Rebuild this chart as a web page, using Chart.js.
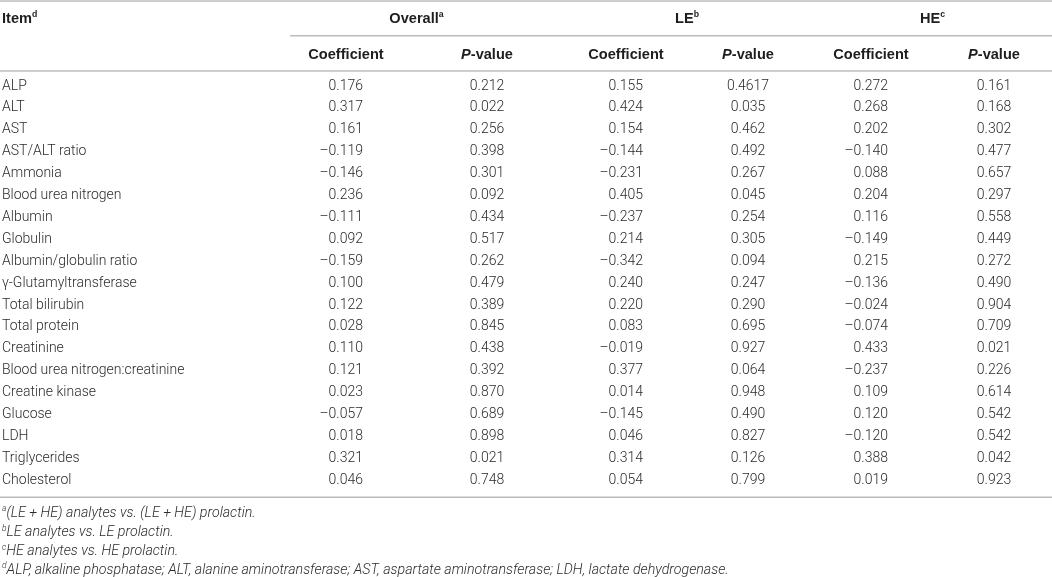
<!DOCTYPE html>
<html>
<head>
<meta charset="utf-8">
<script src="https://cdn.jsdelivr.net/npm/chart.js@4/dist/chart.umd.min.js"></script>
<style>
    html, body { margin: 0; padding: 0; background: #fff; }
    #wrap { width: 1052px; height: 577px; }
</style>
</head>
<body>
<div id="wrap"><canvas id="tableChart" width="1052" height="577"></canvas></div>
<script>
// 表格資料
const items = ['ALP', 'ALT', 'AST', 'AST/ALT ratio', 'Ammonia', 'Blood urea nitrogen', 'Albumin', 'Globulin',
    'Albumin/globulin ratio', 'γ-Glutamyltransferase', 'Total bilirubin', 'Total protein', 'Creatinine',
    'Blood urea nitrogen:creatinine', 'Creatine kinase', 'Glucose', 'LDH', 'Triglycerides', 'Cholesterol'];
const overallCoef = [0.176, 0.317, 0.161, -0.119, -0.146, 0.236, -0.111, 0.092, -0.159, 0.100, 0.122, 0.028, 0.110, 0.121, 0.023, -0.057, 0.018, 0.321, 0.046];
const overallP = [0.212, 0.022, 0.256, 0.398, 0.301, 0.092, 0.434, 0.517, 0.262, 0.479, 0.389, 0.845, 0.438, 0.392, 0.870, 0.689, 0.898, 0.021, 0.748];
const leCoef = [0.155, 0.424, 0.154, -0.144, -0.231, 0.405, -0.237, 0.214, -0.342, 0.240, 0.220, 0.083, -0.019, 0.377, 0.014, -0.145, 0.046, 0.314, 0.054];
const leP = [0.4617, 0.035, 0.462, 0.492, 0.267, 0.045, 0.254, 0.305, 0.094, 0.247, 0.290, 0.695, 0.927, 0.064, 0.948, 0.490, 0.827, 0.126, 0.799];
const heCoef = [0.272, 0.268, 0.202, -0.140, 0.088, 0.204, 0.116, -0.149, 0.215, -0.136, -0.024, -0.074, 0.433, -0.237, 0.109, 0.120, -0.120, 0.388, 0.019];
const heP = [0.161, 0.168, 0.302, 0.477, 0.657, 0.297, 0.558, 0.449, 0.272, 0.490, 0.904, 0.709, 0.021, 0.226, 0.614, 0.542, 0.542, 0.042, 0.923];

const itemHeader = 'Item';
const itemMark = 'd';
const groupTitles = ['Overall', 'LE', 'HE'];
const groupMarks = ['a', 'b', 'c'];
const subHeaders = ['Coefficient', 'P-value'];
const footMarks = ['a', 'b', 'c', 'd'];
const footnotes = [
    '(LE + HE) analytes vs. (LE + HE) prolactin.',
    'LE analytes vs. LE prolactin.',
    'HE analytes vs. HE prolactin.',
    'ALP, alkaline phosphatase; ALT, alanine aminotransferase; AST, aspartate aminotransferase; LDH, lactate dehydrogenase.'
];

// 版面設定 (像素)
const LAYOUT = {
    width: 1052,
    height: 577,
    rowTop: 86,
    rowStep: 21.9,
    itemX: 2,
    colCenters: [346, 487, 626, 748, 871, 994],
    coefShift: 17,
    groupPx: 19,
    subPx: 54.5,
    footPx: [513.3, 532.7, 551.7, 570],
    rules: [
        { px: 1, x0: 0 },
        { px: 35.7, x0: 290 },
        { px: 71, x0: 0 },
        { px: 497.3, x0: 0 }
    ]
};

// 像素位置換算成列單位
const toRow = px => (px - LAYOUT.rowTop) / LAYOUT.rowStep;

const BODY_FONT = 'Roboto, "Liberation Sans", sans-serif';
const HEAD_FONT = '"Liberation Sans", Arial, sans-serif';
const bodyCell = { size: 14, weight: 300, color: '#2b2b2b', family: BODY_FONT };
const headCell = { size: 14.6, weight: 700, color: '#1e1e1e', family: HEAD_FONT };
const footCell = { size: 14.2, weight: 300, color: '#2b2b2b', family: BODY_FONT, italic: true };

function fmt(v) {
    const parts = Math.abs(v).toString().split('.');
    const dec = (parts[1] || '').padEnd(3, '0');
    return (v < 0 ? '\u2013' : '') + parts[0] + '.' + dec;
}

function fontFor(cell, run) {
    const size = run.sup ? cell.size * 0.6 : cell.size;
    const style = (run.italic || cell.italic) ? 'italic ' : '';
    return `${style}${cell.weight} ${size}px ${cell.family}`;
}

function drawRuns(ctx, runs, x, y, cell) {
    let total = 0;
    runs.forEach(r => {
        ctx.font = fontFor(cell, r);
        r.w = ctx.measureText(r.t).width;
        total += r.w;
    });
    let cx = x;
    if (cell.align === 'center') cx = x - total / 2;
    else if (cell.align === 'right') cx = x - total;
    ctx.fillStyle = cell.color;
    ctx.textBaseline = 'middle';
    ctx.textAlign = 'left';
    runs.forEach(r => {
        ctx.font = fontFor(cell, r);
        ctx.fillText(r.t, cx, r.sup ? y - cell.size * 0.3 : y);
        cx += r.w;
    });
}

// 依照各點的像素位置寫出儲存格文字
const cellText = {
    id: 'cellText',
    afterDatasetsDraw(chart) {
        const ctx = chart.ctx;
        ctx.save();
        chart.data.datasets.forEach((ds, di) => {
            if (!ds.cell) return;
            const meta = chart.getDatasetMeta(di);
            meta.data.forEach((pt, i) => {
                drawRuns(ctx, ds.data[i].runs, pt.x, pt.y, ds.cell);
            });
        });
        ctx.restore();
    }
};

function textSet(points, cell) {
    return { data: points, cell: cell, pointRadius: 0, pointHoverRadius: 0, showLine: false };
}

const valueCols = [overallCoef, overallP, leCoef, leP, heCoef, heP];
const datasets = [];

// 橫線
LAYOUT.rules.forEach(r => {
    datasets.push({
        data: [{ x: r.x0, y: toRow(r.px) }, { x: LAYOUT.width, y: toRow(r.px) }],
        showLine: true,
        borderColor: '#bcbcbc',
        borderWidth: 1.6,
        pointRadius: 0
    });
});

// 項目名稱
datasets.push(textSet(items.map((t, i) => ({ x: LAYOUT.itemX, y: i, runs: [{ t }] })),
    Object.assign({ align: 'left' }, bodyCell)));

// 數值欄
valueCols.forEach((col, c) => {
    const isCoef = c % 2 === 0;
    const x = LAYOUT.colCenters[c] + (isCoef ? LAYOUT.coefShift : 0);
    datasets.push(textSet(col.map((v, i) => ({ x, y: i, runs: [{ t: fmt(v) }] })),
        Object.assign({ align: isCoef ? 'right' : 'center' }, bodyCell)));
});

// 表頭
datasets.push(textSet([{ x: LAYOUT.itemX, y: toRow(LAYOUT.groupPx), runs: [{ t: itemHeader }, { t: itemMark, sup: true }] }],
    Object.assign({ align: 'left' }, headCell)));
datasets.push(textSet(groupTitles.map((t, g) => ({
    x: (LAYOUT.colCenters[g * 2] + LAYOUT.colCenters[g * 2 + 1]) / 2,
    y: toRow(LAYOUT.groupPx),
    runs: [{ t }, { t: groupMarks[g], sup: true }]
})), Object.assign({ align: 'center' }, headCell)));
datasets.push(textSet(LAYOUT.colCenters.map((x, c) => ({
    x,
    y: toRow(LAYOUT.subPx),
    runs: c % 2 === 0 ? [{ t: subHeaders[0] }] : [{ t: 'P', italic: true }, { t: subHeaders[1].slice(1) }]
})), Object.assign({ align: 'center' }, headCell)));

// 註腳
datasets.push(textSet(footnotes.map((t, i) => ({
    x: LAYOUT.itemX,
    y: toRow(LAYOUT.footPx[i]),
    runs: [{ t: footMarks[i], sup: true }, { t }]
})), Object.assign({ align: 'left' }, footCell)));

new Chart(document.getElementById('tableChart'), {
    type: 'scatter',
    data: { datasets },
    options: {
        responsive: false,
        animation: false,
        events: [],
        layout: { padding: 0 },
        plugins: { legend: { display: false }, tooltip: { enabled: false } },
        scales: {
            x: { type: 'linear', min: 0, max: LAYOUT.width, display: false },
            y: { type: 'linear', min: toRow(0), max: toRow(LAYOUT.height), reverse: true, display: false }
        }
    },
    plugins: [cellText]
});
</script>
</body>
</html>
